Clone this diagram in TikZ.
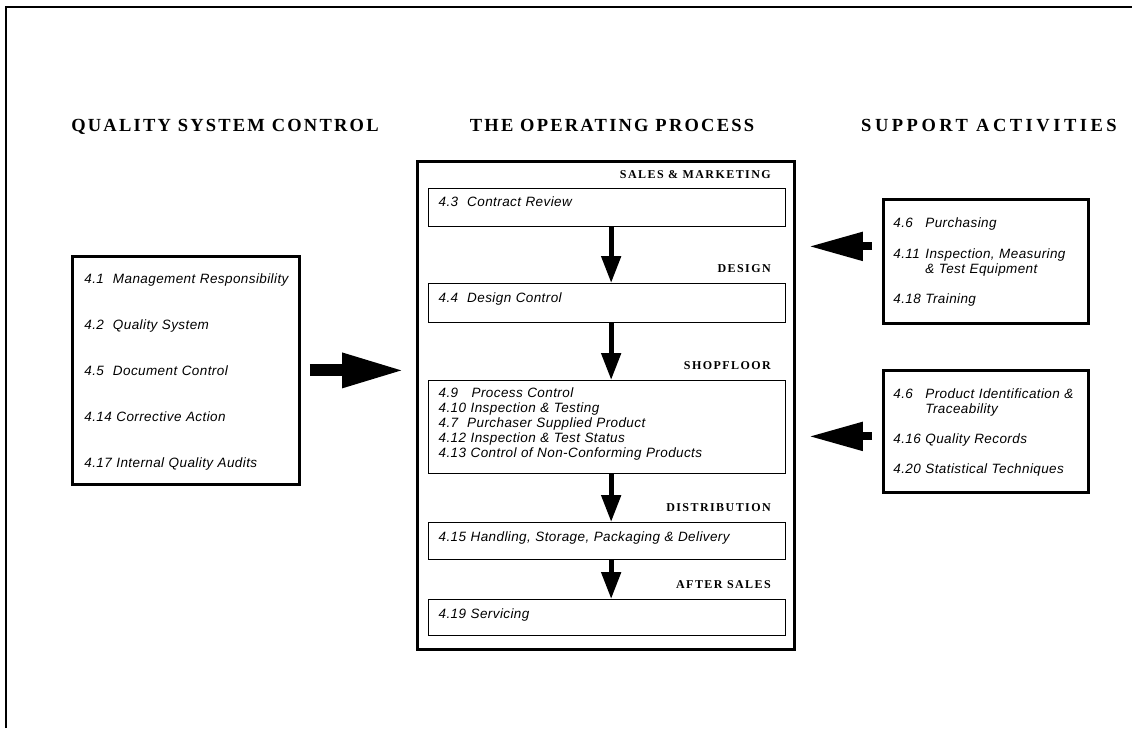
\documentclass[tikz,border=0pt]{standalone}
\usepackage{fontspec}
\setmainfont{Liberation Serif}
\setsansfont{Liberation Sans}
\newfontfamily\headfont[LetterSpace=12]{Liberation Serif}
\newfontfamily\headwidefont[LetterSpace=19]{Liberation Serif}
\newfontfamily\itemfont[LetterSpace=3]{Liberation Sans}
\usetikzlibrary{arrows.meta}
\definecolor{ink}{HTML}{000000}
\newcommand{\clause}[1]{\makebox[32pt][l]{#1}}

\begin{document}
\begin{tikzpicture}[x=1pt, y=-1pt,
    heading/.style={font=\headfont\bfseries\fontsize{18.5}{21}\selectfont, anchor=base, inner sep=0pt},
    stage/.style={font=\headfont\bfseries\fontsize{12}{14}\selectfont, anchor=base east, inner sep=0pt},
    itembox/.style={draw=ink, line width=1.3pt, anchor=north west, inner xsep=10pt, inner ysep=0pt, align=left, font=\itemfont\itshape\fontsize{13.5}{15}\selectfont},
    sidebox/.style={itembox, line width=2.8pt},
    frame/.style={draw=ink, line width=2.8pt},
    flow/.style={ink, line width=5pt, -{Triangle[length=27pt, width=19pt]}},
    bigflow/.style={ink, line width=12pt, -{Triangle[length=63pt, width=32pt]}},
    sideflow/.style={ink, line width=8pt, -{Triangle[length=54pt, width=27pt]}},
  ]
  \useasboundingbox (0,0) rectangle (1132,728);
  \draw[ink, line width=1.8pt] (6,728) -- (6,7) -- (1132,7);

  \node[heading] (qschead) at (225,131) {QUALITY SYSTEM CONTROL};
  \node[heading] (ophead) at (612,131) {THE OPERATING PROCESS};
  \node[heading, font=\headwidefont\bfseries\fontsize{18.5}{21}\selectfont] (suphead) at (989,131) {SUPPORT ACTIVITIES};

  \node[frame, anchor=north west, minimum width=377pt, minimum height=488pt, inner sep=0pt] (proc) at (416,160) {};

  \node[stage] (sales) at (771,178) {SALES \& MARKETING};
  \node[stage] (design) at (771,272) {DESIGN};
  \node[stage] (shop) at (771,369) {SHOPFLOOR};
  \node[stage] (distrib) at (771,511) {DISTRIBUTION};
  \node[stage] (after) at (771,588) {AFTER SALES};

  \node[itembox, text width=337pt, text height=18pt, text depth=20pt] (contract) at (428,188) {4.3\ \ Contract Review};
  \node[itembox, text width=337pt, text height=19pt, text depth=20pt] (designctl) at (428,283) {4.4\ \ Design Control};
  \node[itembox, text width=337pt, text height=17pt, text depth=76pt] (process) at (428,380)
    {\makebox[33pt][l]{4.9}Process Control\\
     4.10 Inspection \& Testing\\
     4.7\ \ Purchaser Supplied Product\\
     4.12 Inspection \& Test Status\\
     4.13 Control of Non-Conforming Products};
  \node[itembox, text width=337pt, text height=19pt, text depth=18pt] (handling) at (428,522) {4.15 Handling, Storage, Packaging \& Delivery};
  \node[itembox, text width=337pt, text height=19pt, text depth=17pt] (servicing) at (428,599) {4.19 Servicing};

  \draw[flow] ([xshift=4pt]contract.south) -- ([xshift=4pt]designctl.north);
  \draw[flow] ([xshift=4pt]designctl.south) -- ([xshift=4pt]process.north);
  \draw[flow] ([xshift=4pt]process.south) -- ([xshift=4pt]handling.north);
  \draw[flow] ([xshift=4pt]handling.south) -- ([xshift=4pt]servicing.north);

  \node[sidebox, inner xsep=12pt, text width=203pt, text height=27pt, text depth=201pt,
        font=\itemfont\itshape\fontsize{13.5}{46}\selectfont] (qsc) at (71,255)
    {4.1\ \ Management Responsibility\\
     4.2\ \ Quality System\\
     4.5\ \ Document Control\\
     4.14 Corrective Action\\
     4.17 Internal Quality Audits};

  \node[sidebox, text width=185pt, text height=28pt, text depth=96pt] (supa) at (882,198)
    {\clause{4.6}Purchasing\\[16pt]
     \clause{4.11}Inspection, Measuring\\
     \hspace*{32pt}\& Test Equipment\\[15pt]
     \clause{4.18}Training};
  \node[sidebox, text width=185pt, text height=28pt, text depth=94pt] (supb) at (882,369)
    {\clause{4.6}Product Identification \&\\
     \hspace*{32pt}Traceability\\[15pt]
     \clause{4.16}Quality Records\\[15pt]
     \clause{4.20}Statistical Techniques};

  \coordinate (procw) at (qsc.east -| proc.west);
  \draw[bigflow] ([xshift=9pt]qsc.east) -- ([xshift=-11pt]procw);

  \coordinate (aout) at ([xshift=-10pt, yshift=15pt]supa.west);
  \coordinate (ain) at (aout -| proc.east);
  \draw[sideflow] (aout) -- ([xshift=13pt]ain);
  \coordinate (bout) at ([xshift=-10pt, yshift=-5pt]supb.west);
  \coordinate (bin) at (bout -| proc.east);
  \draw[sideflow] (bout) -- ([xshift=13pt]bin);
\end{tikzpicture}
\end{document}
